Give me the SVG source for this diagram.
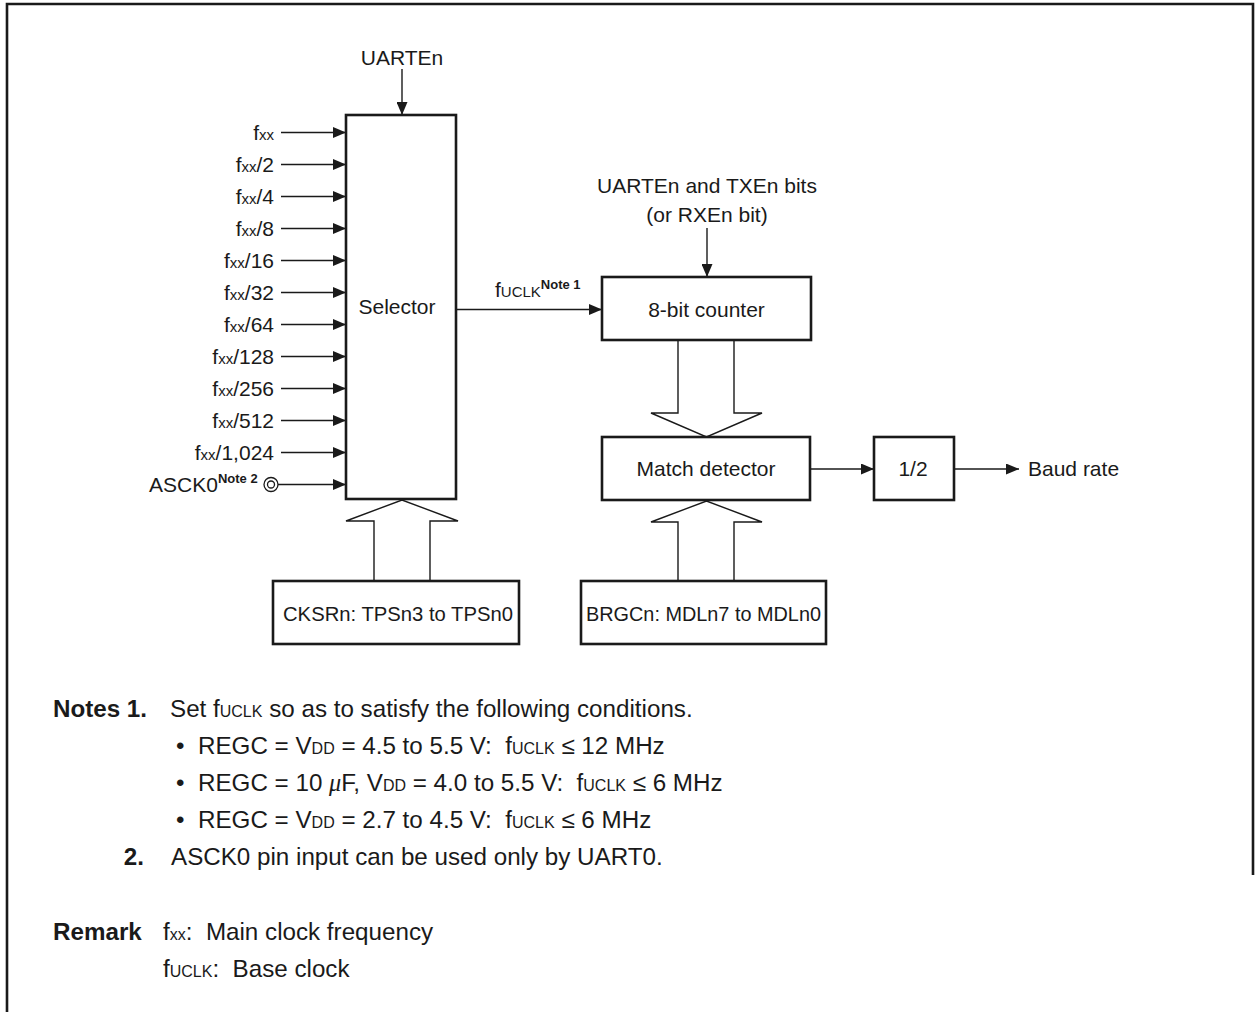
<svg xmlns="http://www.w3.org/2000/svg" width="1256" height="1012" viewBox="0 0 1256 1012">
<defs>
<marker id="ah" markerUnits="userSpaceOnUse" markerWidth="13" markerHeight="11" refX="13" refY="5.5" orient="auto"><path d="M0,0 L13,5.5 L0,11 z" fill="#1a1a1a"/></marker>
<style>
text{font-family:"Liberation Sans",Arial,sans-serif;fill:#1a1a1a;white-space:pre}
.t{font-size:21px}
.s{font-size:15px}
.n{font-size:24.2px}
.sn{font-size:16px}
.b{font-weight:bold}
.sup{font-size:13px;font-weight:bold}
.box{fill:#fff;stroke:#1a1a1a;stroke-width:2.6}
.ln{stroke:#1a1a1a;stroke-width:1.4;fill:none}
.blk{fill:#fff;stroke:#1a1a1a;stroke-width:1.4}
.mu{font-family:"Liberation Serif",serif;font-style:italic}
</style>
</defs>
<rect width="1256" height="1012" fill="#fff"/>
<path d="M7,1012 V4 H1253 V875" fill="none" stroke="#1a1a1a" stroke-width="2.6"/>

<g id="connectors">
<line class="ln" x1="402" y1="69" x2="402" y2="115" marker-end="url(#ah)"/>
<line class="ln" x1="281" y1="132.5" x2="346" y2="132.5" marker-end="url(#ah)"/>
<line class="ln" x1="281" y1="164.5" x2="346" y2="164.5" marker-end="url(#ah)"/>
<line class="ln" x1="281" y1="196.5" x2="346" y2="196.5" marker-end="url(#ah)"/>
<line class="ln" x1="281" y1="228.5" x2="346" y2="228.5" marker-end="url(#ah)"/>
<line class="ln" x1="281" y1="260.5" x2="346" y2="260.5" marker-end="url(#ah)"/>
<line class="ln" x1="281" y1="292.5" x2="346" y2="292.5" marker-end="url(#ah)"/>
<line class="ln" x1="281" y1="324.5" x2="346" y2="324.5" marker-end="url(#ah)"/>
<line class="ln" x1="281" y1="356.5" x2="346" y2="356.5" marker-end="url(#ah)"/>
<line class="ln" x1="281" y1="388.5" x2="346" y2="388.5" marker-end="url(#ah)"/>
<line class="ln" x1="281" y1="420.5" x2="346" y2="420.5" marker-end="url(#ah)"/>
<line class="ln" x1="281" y1="452.5" x2="346" y2="452.5" marker-end="url(#ah)"/>
<line class="ln" x1="278" y1="484.5" x2="346" y2="484.5" marker-end="url(#ah)"/>
<line class="ln" x1="456" y1="309.5" x2="602" y2="309.5" marker-end="url(#ah)"/>
<line class="ln" x1="707" y1="228" x2="707" y2="277" marker-end="url(#ah)"/>
<line class="ln" x1="810" y1="469" x2="874" y2="469" marker-end="url(#ah)"/>
<line class="ln" x1="954" y1="469" x2="1019" y2="469" marker-end="url(#ah)"/>
<polygon class="blk" points="374,581 374,521 346,521 402,500 458,521 430,521 430,581"/>
<polygon class="blk" points="678,340 678,413 651,413 706.5,437 762,413 734,413 734,340"/>
<polygon class="blk" points="678,581 678,522 651,522 706.5,501 762,522 734,522 734,581"/>
<circle cx="271" cy="484.5" r="7" fill="#fff" stroke="#1a1a1a" stroke-width="1.3"/>
<circle cx="271" cy="484.5" r="3.5" fill="none" stroke="#1a1a1a" stroke-width="1.3"/>
</g>

<g id="uarten"><text class="t" x="402" y="65" text-anchor="middle">UARTEn</text></g>

<g id="inputs">
<text class="t" x="274" y="140" text-anchor="end">f<tspan class="s">xx</tspan></text>
<text class="t" x="274" y="172" text-anchor="end">f<tspan class="s">xx</tspan>/2</text>
<text class="t" x="274" y="204" text-anchor="end">f<tspan class="s">xx</tspan>/4</text>
<text class="t" x="274" y="236" text-anchor="end">f<tspan class="s">xx</tspan>/8</text>
<text class="t" x="274" y="268" text-anchor="end">f<tspan class="s">xx</tspan>/16</text>
<text class="t" x="274" y="300" text-anchor="end">f<tspan class="s">xx</tspan>/32</text>
<text class="t" x="274" y="332" text-anchor="end">f<tspan class="s">xx</tspan>/64</text>
<text class="t" x="274" y="364" text-anchor="end">f<tspan class="s">xx</tspan>/128</text>
<text class="t" x="274" y="396" text-anchor="end">f<tspan class="s">xx</tspan>/256</text>
<text class="t" x="274" y="428" text-anchor="end">f<tspan class="s">xx</tspan>/512</text>
<text class="t" x="274" y="460" text-anchor="end">f<tspan class="s">xx</tspan>/1,024</text>
<text class="t" x="149" y="492">ASCK0<tspan class="sup" dy="-9">Note 2</tspan></text>
</g>

<g id="selector">
<rect class="box" x="346" y="115" width="110" height="384"/>
<text class="t" x="397" y="314" text-anchor="middle">Selector</text>
</g>

<g id="fuclk-label"><text class="t" x="495" y="297">f<tspan class="s">UCLK</tspan><tspan class="sup" dy="-8">Note 1</tspan></text></g>

<g id="enable-label">
<text class="t" x="707" y="193" text-anchor="middle">UARTEn and TXEn bits</text>
<text class="t" x="707" y="222" text-anchor="middle">(or RXEn bit)</text>
</g>

<g id="counter">
<rect class="box" x="602" y="277" width="209" height="63"/>
<text class="t" x="706.5" y="317" text-anchor="middle">8-bit counter</text>
</g>

<g id="match">
<rect class="box" x="602" y="437" width="208" height="63"/>
<text class="t" x="706" y="476" text-anchor="middle">Match detector</text>
</g>

<g id="half">
<rect class="box" x="874" y="437" width="80" height="63"/>
<text class="t" x="913" y="476" text-anchor="middle">1/2</text>
</g>

<g id="baud"><text class="t" x="1028" y="476">Baud rate</text></g>

<g id="cksr">
<rect class="box" x="273" y="581" width="246" height="63"/>
<text class="t" x="283" y="621" textLength="230" lengthAdjust="spacingAndGlyphs">CKSRn: TPSn3 to TPSn0</text>
</g>

<g id="brgc">
<rect class="box" x="581" y="581" width="245" height="63"/>
<text class="t" x="586" y="621" textLength="235" lengthAdjust="spacingAndGlyphs">BRGCn: MDLn7 to MDLn0</text>
</g>

<g id="notes">
<text class="n b" x="53" y="717">Notes</text>
<text class="n b" x="147" y="717" text-anchor="end">1.</text>
<text class="n" x="170" y="717">Set f<tspan class="sn">UCLK</tspan> so as to satisfy the following conditions.</text>
<text class="n" x="176" y="754">•</text>
<text class="n" x="198" y="754">REGC = V<tspan class="sn">DD</tspan> = 4.5 to 5.5 V:  f<tspan class="sn">UCLK</tspan> ≤ 12 MHz</text>
<text class="n" x="176" y="791">•</text>
<text class="n" x="198" y="791">REGC = 10 <tspan class="mu">μ</tspan>F, V<tspan class="sn">DD</tspan> = 4.0 to 5.5 V:  f<tspan class="sn">UCLK</tspan> ≤ 6 MHz</text>
<text class="n" x="176" y="828">•</text>
<text class="n" x="198" y="828">REGC = V<tspan class="sn">DD</tspan> = 2.7 to 4.5 V:  f<tspan class="sn">UCLK</tspan> ≤ 6 MHz</text>
<text class="n b" x="144" y="865" text-anchor="end">2.</text>
<text class="n" x="171" y="865">ASCK0 pin input can be used only by UART0.</text>
<text class="n b" x="53" y="940">Remark</text>
<text class="n" x="163" y="940">f<tspan class="sn">xx</tspan>:  Main clock frequency</text>
<text class="n" x="163" y="977">f<tspan class="sn">UCLK</tspan>:  Base clock</text>
</g>
</svg>
